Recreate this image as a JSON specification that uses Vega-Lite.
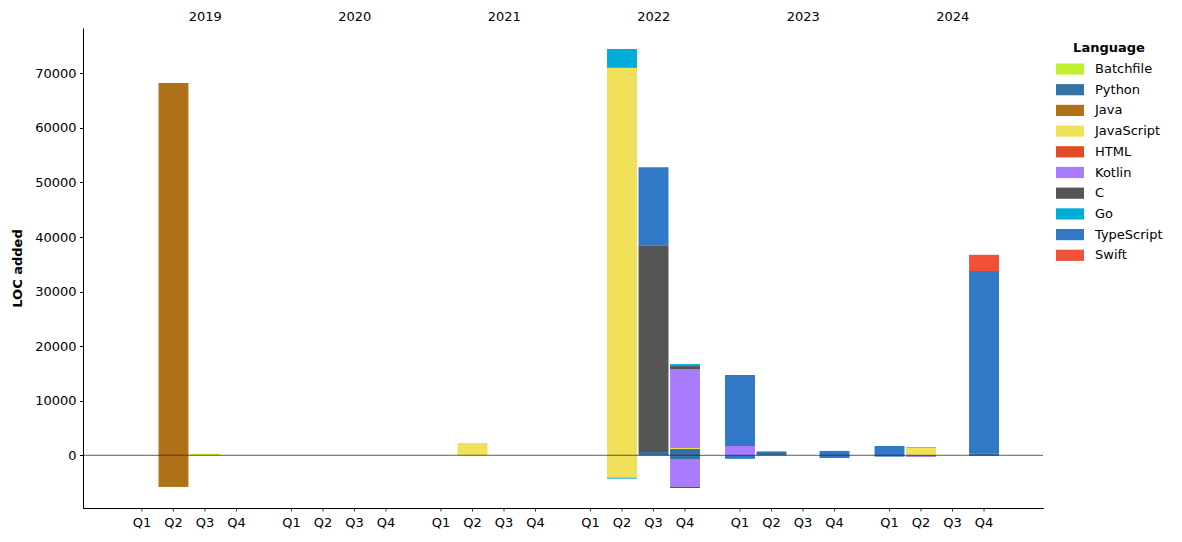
{
  "$schema": "https://vega.github.io/schema/vega-lite/v6.json",
  "width": 960,
  "height": 480,
  "autosize": {"type": "none"},
  "padding": {"left": 83, "top": 28, "right": 139, "bottom": 34},
  "config": {
    "font": "DejaVu Sans",
    "view": {"stroke": null},
    "axis": {"labelFont": "DejaVu Sans", "labelFontSize": 13, "labelColor": "#000", "grid": false, "tickColor": "#000", "domainColor": "#000", "titleColor": "#000"}
  },
  "datasets": {
    "loc": [
      {"year": "2019", "quarter": "Q2", "lang": "Java", "loc": 68200},
      {"year": "2019", "quarter": "Q2", "lang": "Java", "loc": -5800},
      {"year": "2019", "quarter": "Q3", "lang": "Batchfile", "loc": 250},
      {"year": "2021", "quarter": "Q2", "lang": "JavaScript", "loc": 2250},
      {"year": "2022", "quarter": "Q2", "lang": "JavaScript", "loc": 71000},
      {"year": "2022", "quarter": "Q2", "lang": "Go", "loc": 3450},
      {"year": "2022", "quarter": "Q2", "lang": "JavaScript", "loc": -4100},
      {"year": "2022", "quarter": "Q2", "lang": "Go", "loc": -180},
      {"year": "2022", "quarter": "Q3", "lang": "Python", "loc": 600},
      {"year": "2022", "quarter": "Q3", "lang": "C", "loc": 37900},
      {"year": "2022", "quarter": "Q3", "lang": "TypeScript", "loc": 14300},
      {"year": "2022", "quarter": "Q4", "lang": "Python", "loc": 1150},
      {"year": "2022", "quarter": "Q4", "lang": "JavaScript", "loc": 200},
      {"year": "2022", "quarter": "Q4", "lang": "Kotlin", "loc": 14450},
      {"year": "2022", "quarter": "Q4", "lang": "C", "loc": 550},
      {"year": "2022", "quarter": "Q4", "lang": "Go", "loc": 370},
      {"year": "2022", "quarter": "Q4", "lang": "Python", "loc": -680},
      {"year": "2022", "quarter": "Q4", "lang": "Kotlin", "loc": -5070},
      {"year": "2022", "quarter": "Q4", "lang": "C", "loc": -240},
      {"year": "2023", "quarter": "Q1", "lang": "Kotlin", "loc": 1700},
      {"year": "2023", "quarter": "Q1", "lang": "TypeScript", "loc": 13000},
      {"year": "2023", "quarter": "Q1", "lang": "TypeScript", "loc": -650},
      {"year": "2023", "quarter": "Q2", "lang": "Python", "loc": 600},
      {"year": "2023", "quarter": "Q2", "lang": "Kotlin", "loc": 150},
      {"year": "2023", "quarter": "Q4", "lang": "TypeScript", "loc": 800},
      {"year": "2023", "quarter": "Q4", "lang": "TypeScript", "loc": -500},
      {"year": "2024", "quarter": "Q1", "lang": "TypeScript", "loc": 1700},
      {"year": "2024", "quarter": "Q1", "lang": "TypeScript", "loc": -250},
      {"year": "2024", "quarter": "Q2", "lang": "JavaScript", "loc": 1350},
      {"year": "2024", "quarter": "Q2", "lang": "Kotlin", "loc": 150},
      {"year": "2024", "quarter": "Q2", "lang": "Kotlin", "loc": -300},
      {"year": "2024", "quarter": "Q4", "lang": "Python", "loc": 300},
      {"year": "2024", "quarter": "Q4", "lang": "TypeScript", "loc": 33470},
      {"year": "2024", "quarter": "Q4", "lang": "Swift", "loc": 2970},
      {"year": "2024", "quarter": "Q4", "lang": "HTML", "loc": -80}
    ],
    "langs": [
      {"lang": "Batchfile", "rank": 1},
      {"lang": "Python", "rank": 2},
      {"lang": "Java", "rank": 3},
      {"lang": "JavaScript", "rank": 4},
      {"lang": "HTML", "rank": 5},
      {"lang": "Kotlin", "rank": 6},
      {"lang": "C", "rank": 7},
      {"lang": "Go", "rank": 8},
      {"lang": "TypeScript", "rank": 9},
      {"lang": "Swift", "rank": 10}
    ],
    "slots": [
      {"year": "2019", "quarter": "Q1"}, {"year": "2019", "quarter": "Q2"}, {"year": "2019", "quarter": "Q3"}, {"year": "2019", "quarter": "Q4"},
      {"year": "2020", "quarter": "Q1"}, {"year": "2020", "quarter": "Q2"}, {"year": "2020", "quarter": "Q3"}, {"year": "2020", "quarter": "Q4"},
      {"year": "2021", "quarter": "Q1"}, {"year": "2021", "quarter": "Q2"}, {"year": "2021", "quarter": "Q3"}, {"year": "2021", "quarter": "Q4"},
      {"year": "2022", "quarter": "Q1"}, {"year": "2022", "quarter": "Q2"}, {"year": "2022", "quarter": "Q3"}, {"year": "2022", "quarter": "Q4"},
      {"year": "2023", "quarter": "Q1"}, {"year": "2023", "quarter": "Q2"}, {"year": "2023", "quarter": "Q3"}, {"year": "2023", "quarter": "Q4"},
      {"year": "2024", "quarter": "Q1"}, {"year": "2024", "quarter": "Q2"}, {"year": "2024", "quarter": "Q3"}, {"year": "2024", "quarter": "Q4"}
    ],
    "zero": [{"v": 0}]
  },
  "resolve": {"axis": {"x": "independent"}},
  "layer": [
    {
      "data": {"name": "loc"},
      "transform": [
        {"lookup": "lang", "from": {"data": {"name": "langs"}, "key": "lang", "fields": ["rank"]}}
      ],
      "mark": {"type": "bar"},
      "encoding": {
        "x": {
          "field": "year", "type": "nominal",
          "scale": {"domain": ["2019", "2020", "2021", "2022", "2023", "2024"], "paddingInner": 0.157, "paddingOuter": 0.289},
          "axis": {"orient": "top", "title": null, "domain": false, "ticks": false, "labelAngle": 0, "labelOffset": 16, "labelPadding": 5}
        },
        "xOffset": {
          "field": "quarter", "type": "nominal",
          "scale": {"domain": ["Q1", "Q2", "Q3", "Q4"], "paddingInner": 0.05, "paddingOuter": 0.025}
        },
        "y": {
          "field": "loc", "type": "quantitative", "stack": "zero",
          "scale": {"domain": [-9660, 78300], "nice": false, "zero": false},
          "axis": {"title": "LOC added", "titleFontWeight": "bold", "titleFontSize": 13, "titlePadding": 10, "values": [0, 10000, 20000, 30000, 40000, 50000, 60000, 70000], "format": "d", "tickSize": 3.5, "labelPadding": 3.5}
        },
        "order": {"field": "rank", "type": "quantitative", "sort": "ascending"},
        "color": {
          "field": "lang", "type": "nominal",
          "scale": {
            "domain": ["Batchfile", "Python", "Java", "JavaScript", "HTML", "Kotlin", "C", "Go", "TypeScript", "Swift"],
            "range": ["#c1f12e", "#3572a5", "#b07219", "#f1e05a", "#e34c26", "#a97bff", "#555555", "#00add8", "#3178c6", "#f05138"]
          },
          "legend": {
            "orient": "none", "legendX": 973, "legendY": 14,
            "title": "Language", "titleFontWeight": "bold", "titleFontSize": 13, "titleAnchor": "middle", "titleColor": "#000", "titlePadding": 7,
            "labelFontSize": 13, "labelColor": "#000", "labelOffset": 25,
            "symbolType": "M-1,-0.8H3V0.8H-1Z", "symbolSize": 196, "symbolStrokeWidth": 0, "symbolOpacity": 1,
            "rowPadding": 6.7, "padding": 0
          }
        }
      }
    },
    {
      "data": {"name": "zero"},
      "mark": {"type": "rule", "color": "#000", "strokeWidth": 0.8, "opacity": 0.8},
      "encoding": {"y": {"field": "v", "type": "quantitative"}}
    },
    {
      "data": {"name": "slots"},
      "mark": {"type": "text", "baseline": "top", "dy": 9, "fontSize": 13, "color": "#000", "font": "DejaVu Sans"},
      "encoding": {
        "x": {"field": "year", "type": "nominal", "axis": {"orient": "bottom", "title": null, "labels": false, "ticks": false, "domain": true}},
        "xOffset": {"field": "quarter", "type": "nominal"},
        "y": {"datum": -9660},
        "text": {"field": "quarter"}
      }
    },
    {
      "data": {"name": "slots"},
      "mark": {"type": "rule", "color": "#000", "strokeWidth": 0.8},
      "encoding": {
        "x": {"field": "year", "type": "nominal", "axis": {"orient": "bottom", "title": null, "labels": false, "ticks": false, "domain": true}},
        "xOffset": {"field": "quarter", "type": "nominal"},
        "y": {"datum": -9660},
        "y2": {"datum": -10300}
      }
    }
  ]
}
